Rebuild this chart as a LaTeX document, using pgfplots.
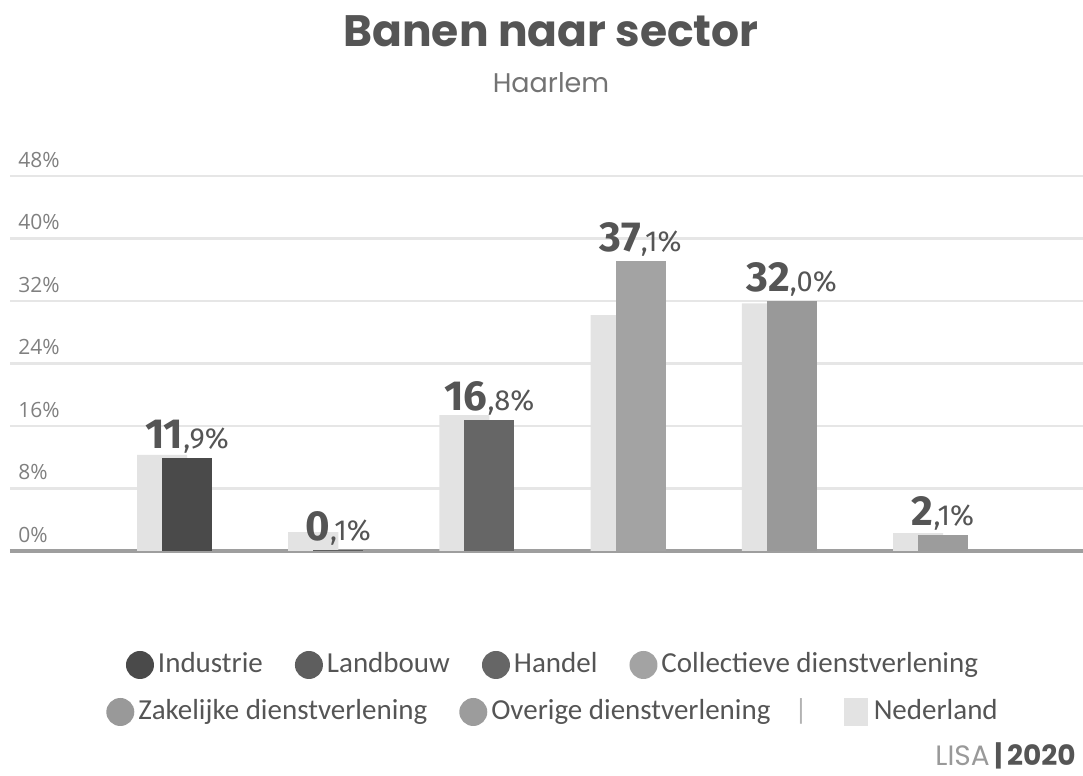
\documentclass[border=0pt]{standalone}
\usepackage{pgfplots}
\pgfplotsset{compat=1.18}
\usepackage{fontspec}
\setmainfont{Open Sans}
\newfontfamily\titlefont{Poppins}
\newfontfamily\legfont{Carlito}
\newfontfamily\lblfont{Fira Sans}
\definecolor{cInd}{HTML}{4A4A4A}
\definecolor{cLand}{HTML}{5E5E5E}
\definecolor{cHan}{HTML}{666666}
\definecolor{cCol}{HTML}{A3A3A3}
\definecolor{cZak}{HTML}{999999}
\definecolor{cOve}{HTML}{9C9C9C}
\definecolor{cNed}{HTML}{E3E3E3}
\definecolor{txt}{HTML}{555555}
\definecolor{gridc}{HTML}{E6E6E6}
\def\lbl#1/#2\relax{{\lblfont\bfseries\fontsize{21}{21}\selectfont #1}{\lblfont\fontsize{14.5}{14.5}\selectfont ,#2\%}}
\newcommand\leg[2]{\tikz[baseline=-0.55ex]\fill[#1] (0,0) circle (7pt);\hspace{2pt}#2}
\begin{document}
\begin{tikzpicture}
\useasboundingbox (0,0) rectangle (541.5pt,388pt);
\begin{axis}[
  at={(5pt,112.5pt)}, anchor=south west,
  scale only axis, width=536.5pt, height=187.5pt,
  xmin=-1.1706, xmax=5.926, ymin=0, ymax=48,
  axis line style={draw=none},
  xtick=\empty,
  ytick={8,16,24,32,40,48},
  yticklabels={8\%,16\%,24\%,32\%,40\%,48\%},
  extra y ticks={0},
  extra y tick labels={0\%},
  extra y tick style={grid style={color=black!38, line width=1.6pt}},
  major tick length=0pt,
  ymajorgrids,
  grid style={color=gridc, line width=1.2pt},
  yticklabel style={anchor=south west, inner sep=0pt, xshift=4pt, yshift=4pt, text=black!50, font=\fontsize{10.5}{10.5}\selectfont},
  ybar, bar width=0.331,
  every axis plot/.append style={draw=none},
  clip=false,
]
% Nederland (behind)
\addplot[fill=cNed, bar shift=-0.165] coordinates {(0,12.3) (1,2.4) (2,17.4) (3,30.2) (4,31.7) (5,2.3)};
% Haarlem
\pgfplotsset{hl/.style={bar shift=0, point meta=explicit symbolic,
  nodes near coords={\expandafter\lbl\pgfplotspointmeta\relax},
  every node near coord/.append style={text=txt, anchor=south, inner sep=2pt, yshift=0pt}}}
\addplot[fill=cInd, hl] coordinates {(0,11.9) [11/9]};
\addplot[fill=cLand, hl] coordinates {(1,0.1) [0/1]};
\addplot[fill=cHan, hl] coordinates {(2,16.8) [16/8]};
\addplot[fill=cCol, hl] coordinates {(3,37.1) [37/1]};
\addplot[fill=cZak, hl] coordinates {(4,32.0) [32/0]};
\addplot[fill=cOve, hl] coordinates {(5,2.1) [2/1]};
\end{axis}
\node[anchor=base, text=txt, font=\titlefont\bfseries\fontsize{22}{22}\selectfont] at (275.5pt,364.5pt) {Banen naar sector};
\node[anchor=base, text=black!55, font=\titlefont\fontsize{13.5}{13.5}\selectfont] at (275.5pt,341.5pt) {Haarlem};
\node[text=txt, font=\legfont\fontsize{14.5}{14.5}\selectfont] at (276pt,55.5pt)
 {\leg{cInd}{Industrie}\hspace{16pt}\leg{cLand}{Landbouw}\hspace{16pt}\leg{cHan}{Handel}\hspace{16pt}\leg{cCol}{Collectieve dienstverlening}};
\node[text=txt, font=\legfont\fontsize{14.5}{14.5}\selectfont] at (276pt,32pt)
 {\leg{cZak}{Zakelijke dienstverlening}\hspace{16pt}\leg{cOve}{Overige dienstverlening}\hspace{12pt}{\color{black!30}|}\hspace{18pt}\tikz[baseline=-0.55ex]\fill[cNed] (-6pt,-7pt) rectangle (6pt,7pt);\hspace{3pt}Nederland};
\node[anchor=base west, font=\titlefont\fontsize{14}{14}\selectfont, inner sep=0pt] at (467.5pt,5pt)
 {{\color{black!40}LISA}{\color{txt}\bfseries\,|\,2020}};
\end{tikzpicture}
\end{document}
